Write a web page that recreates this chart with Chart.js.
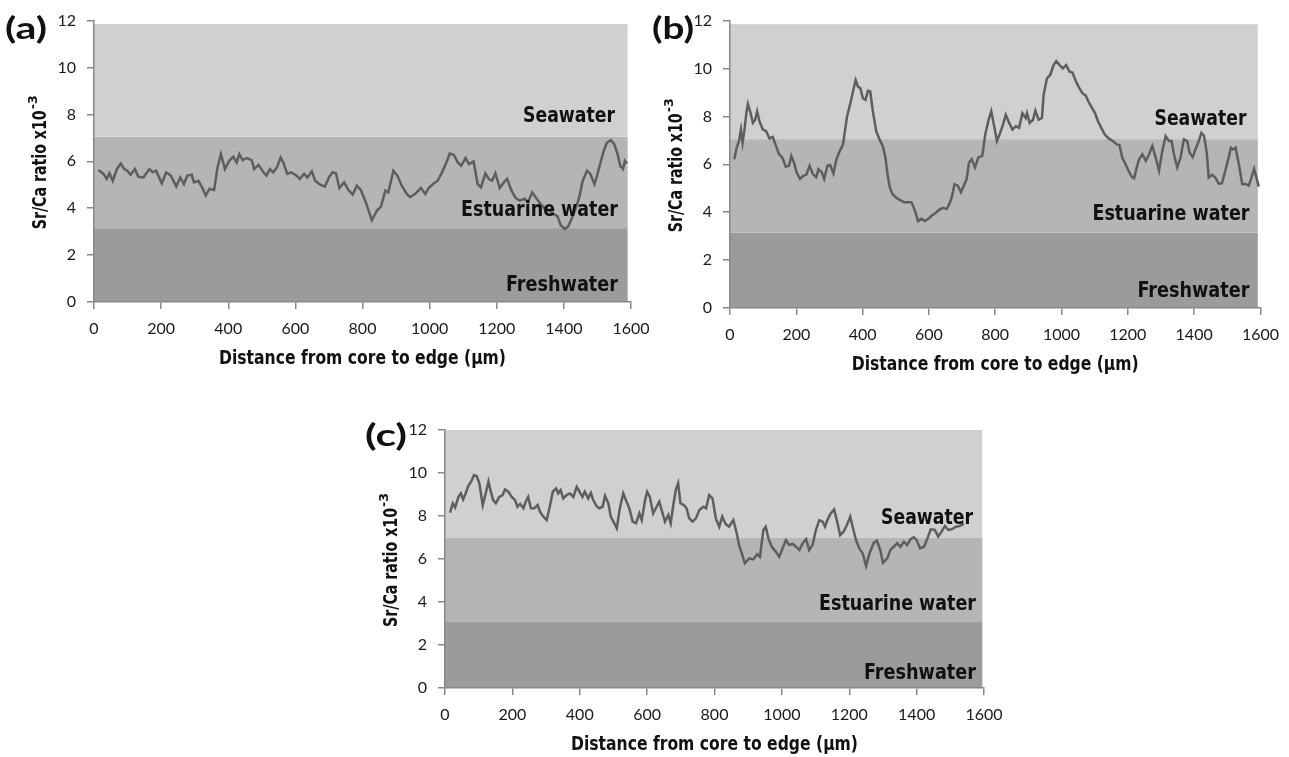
<!DOCTYPE html>
<html>
<head>
<meta charset="utf-8">
<script src="https://cdn.jsdelivr.net/npm/chart.js@4.4.1/dist/chart.umd.min.js"></script>
<style>
  body { margin: 0; background: #fff; }
  .painel { position: absolute; }
</style>
</head>
<body>
<div class="painel" style="left:0px;top:0px;width:660px;height:380px"><canvas id="chartA"></canvas></div>
<div class="painel" style="left:640px;top:0px;width:649px;height:390px"><canvas id="chartB"></canvas></div>
<div class="painel" style="left:340px;top:400px;width:680px;height:357px"><canvas id="chartC"></canvas></div>
<script>
// eixos
var ticksY = [0, 2, 4, 6, 8, 10, 12];
var ticksX = [0, 200, 400, 600, 800, 1000, 1200, 1400, 1600];
var zonas = ['Seawater', 'Estuarine water', 'Freshwater'];

// (a)
var distA = [13, 28, 38, 46, 56, 68, 80, 90, 99, 109, 122, 132, 147, 165, 175, 185, 202, 215, 229, 245,
  257, 268, 278, 291, 298, 311, 321, 333, 344, 358, 368, 378, 390, 403, 415, 425, 433, 443, 455, 470,
  477, 490, 505, 514, 524, 534, 545, 556, 564, 576, 588, 603, 613, 626, 636, 649, 659, 674, 688, 701,
  711, 721, 731, 745, 758, 771, 783, 795, 808, 828, 843, 855, 868, 877, 892, 904, 917, 932, 942, 957,
  974, 987, 997, 1010, 1024, 1037, 1050, 1060, 1072, 1084, 1094, 1107, 1117, 1131, 1143, 1153, 1166, 1176, 1186, 1196,
  1209, 1221, 1231, 1243, 1256, 1269, 1283, 1293, 1306, 1319, 1331, 1343, 1356, 1369, 1381, 1391, 1403, 1413, 1423, 1433,
  1446, 1456, 1469, 1479, 1491, 1499, 1509, 1519, 1528, 1540, 1550, 1560, 1568, 1576, 1582, 1588];
var srCaA = [5.63, 5.47, 5.25, 5.49, 5.17, 5.67, 5.91, 5.67, 5.6, 5.43, 5.67, 5.34, 5.31, 5.67, 5.53, 5.6, 5.06, 5.53, 5.39, 4.92,
  5.31, 5.03, 5.39, 5.43, 5.1, 5.17, 4.92, 4.54, 4.82, 4.78, 5.74, 6.31, 5.67, 6.02, 6.19, 5.95, 6.31, 6.05, 6.14, 6.05,
  5.67, 5.85, 5.53, 5.39, 5.67, 5.53, 5.74, 6.16, 5.95, 5.46, 5.53, 5.39, 5.25, 5.46, 5.31, 5.57, 5.17, 5.0, 4.92, 5.34,
  5.53, 5.49, 4.86, 5.1, 4.78, 4.58, 4.96, 4.78, 4.32, 3.48, 3.9, 4.07, 4.75, 4.68, 5.6, 5.39, 4.96, 4.61, 4.47, 4.61,
  4.86, 4.61, 4.86, 5.03, 5.17, 5.53, 5.95, 6.33, 6.28, 5.95, 5.81, 6.14, 5.88, 5.99, 5.03, 4.89, 5.49, 5.25, 5.17, 5.49,
  4.86, 5.1, 5.25, 4.78, 4.44, 4.32, 4.4, 4.26, 4.68, 4.4, 4.18, 3.97, 3.9, 3.76, 3.65, 3.26, 3.12, 3.22, 3.55, 3.9,
  4.47, 5.17, 5.6, 5.46, 5.03, 5.39, 5.95, 6.45, 6.79, 6.9, 6.73, 6.31, 5.81, 5.67, 6.02, 5.91];
var limitesA = [0, 3.15, 7.05, 11.85];

// (b)
var distB = [13, 20, 27, 33, 38, 43, 50, 54, 62, 69, 76, 82, 89, 99, 109, 119, 129, 139, 148, 158,
  168, 178, 185, 193, 201, 211, 221, 230, 240, 250, 260, 267, 277, 284, 294, 302, 312, 321, 331, 341,
  353, 363, 371, 379, 386, 393, 401, 409, 416, 423, 431, 441, 451, 461, 469, 475, 482, 490, 500, 512,
  525, 538, 547, 554, 561, 567, 577, 587, 599, 609, 619, 631, 641, 654, 661, 669, 677, 687, 697, 707,
  714, 721, 729, 739, 749, 761, 770, 780, 788, 798, 805, 815, 825, 832, 842, 852, 862, 872, 882, 892,
  896, 904, 914, 921, 931, 941, 946, 956, 966, 976, 984, 994, 1004, 1014, 1024, 1033, 1043, 1053, 1063, 1073,
  1081, 1091, 1101, 1110, 1120, 1130, 1142, 1155, 1167, 1175, 1183, 1193, 1203, 1212, 1219, 1226, 1234, 1244, 1254, 1264,
  1274, 1284, 1294, 1304, 1314, 1324, 1332, 1339, 1349, 1359, 1369, 1379, 1386, 1396, 1404, 1414, 1422, 1430, 1438, 1444,
  1454, 1464, 1474, 1484, 1494, 1504, 1511, 1518, 1525, 1535, 1545, 1555, 1565, 1573, 1581, 1589, 1595];
var srCaB = [6.21, 6.69, 6.97, 7.45, 6.9, 7.38, 8.21, 8.52, 8.14, 7.73, 7.86, 8.21, 7.79, 7.45, 7.38, 7.08, 7.14, 6.76, 6.42, 6.28,
  5.9, 5.94, 6.35, 6.07, 5.66, 5.39, 5.52, 5.56, 5.94, 5.59, 5.46, 5.8, 5.66, 5.39, 5.94, 5.97, 5.62, 6.21, 6.55, 6.83,
  8.0, 8.55, 9.04, 9.52, 9.24, 9.18, 8.76, 8.69, 9.07, 9.04, 8.21, 7.38, 7.04, 6.76, 6.28, 5.59, 5.04, 4.76, 4.62, 4.51,
  4.42, 4.42, 4.42, 4.21, 3.93, 3.63, 3.73, 3.63, 3.73, 3.86, 3.96, 4.1, 4.18, 4.14, 4.32, 4.62, 5.17, 5.11, 4.83, 5.17,
  5.39, 6.07, 6.21, 5.87, 6.28, 6.35, 7.25, 7.86, 8.21, 7.52, 6.97, 7.31, 7.73, 8.07, 7.73, 7.45, 7.59, 7.52, 8.14, 7.93,
  8.14, 7.73, 7.86, 8.24, 7.86, 7.93, 8.9, 9.59, 9.73, 10.14, 10.31, 10.14, 10.0, 10.14, 9.87, 9.83, 9.48, 9.2, 8.97, 8.87,
  8.62, 8.38, 8.14, 7.8, 7.52, 7.25, 7.08, 6.97, 6.83, 6.8, 6.28, 6.0, 5.7, 5.48, 5.42, 5.83, 6.21, 6.42, 6.14, 6.42,
  6.76, 6.28, 5.73, 6.55, 7.18, 6.97, 6.97, 6.42, 5.87, 6.28, 7.04, 6.97, 6.49, 6.3, 6.62, 6.97, 7.31, 7.18, 6.49, 5.45,
  5.56, 5.45, 5.18, 5.21, 5.73, 6.28, 6.69, 6.62, 6.69, 6.0, 5.18, 5.18, 5.11, 5.45, 5.8, 5.38, 5.07];
var limitesB = [0, 3.15, 7.05, 11.85];

// (c)
var distC = [15, 23, 30, 40, 47, 54, 62, 69, 79, 86, 94, 102, 112, 122, 129, 136, 143, 151, 161, 171,
  178, 188, 198, 208, 215, 223, 233, 240, 247, 255, 265, 275, 282, 292, 302, 312, 320, 330, 336, 343,
  351, 361, 371, 381, 391, 399, 408, 415, 425, 433, 440, 450, 458, 468, 475, 485, 492, 500, 510, 519,
  529, 537, 547, 557, 567, 577, 584, 594, 600, 608, 618, 626, 636, 646, 653, 663, 670, 677, 685, 692,
  699, 709, 717, 725, 735, 745, 755, 767, 775, 784, 794, 804, 814, 823, 833, 843, 856, 866, 874, 881,
  890, 903, 915, 927, 935, 945, 952, 960, 970, 982, 992, 1002, 1012, 1022, 1032, 1042, 1052, 1062, 1072, 1081,
  1091, 1101, 1111, 1121, 1128, 1135, 1145, 1155, 1163, 1173, 1183, 1193, 1203, 1210, 1220, 1230, 1240, 1250, 1260, 1273,
  1282, 1292, 1300, 1313, 1322, 1332, 1342, 1352, 1362, 1372, 1382, 1392, 1400, 1410, 1422, 1432, 1442, 1454, 1464, 1474,
  1484, 1494, 1504, 1517, 1527, 1540];
var srCaC = [8.16, 8.59, 8.4, 8.89, 9.05, 8.77, 9.08, 9.39, 9.64, 9.9, 9.86, 9.52, 8.5, 9.13, 9.6, 9.13, 8.74, 8.59, 8.89, 8.97,
  9.24, 9.13, 8.89, 8.74, 8.43, 8.56, 8.36, 8.67, 8.89, 8.36, 8.36, 8.51, 8.2, 7.97, 7.81, 8.51, 9.13, 9.28, 9.05, 9.21,
  8.82, 8.97, 9.05, 8.89, 9.36, 9.13, 8.89, 9.13, 8.82, 9.08, 8.74, 8.46, 8.36, 8.43, 8.93, 8.59, 7.97, 7.74, 7.43, 8.36,
  9.05, 8.74, 8.36, 7.74, 7.66, 8.12, 7.81, 8.74, 9.13, 8.89, 8.12, 8.36, 8.67, 8.12, 7.74, 8.05, 7.66, 8.43, 9.21, 9.52,
  8.59, 8.51, 8.36, 7.89, 7.74, 7.89, 8.28, 8.43, 8.36, 8.97, 8.82, 7.89, 7.5, 7.97, 7.63, 7.5, 7.81, 7.2, 6.57, 6.26,
  5.8, 6.03, 5.98, 6.23, 6.1, 7.35, 7.5, 6.96, 6.57, 6.34, 6.1, 6.49, 6.88, 6.65, 6.7, 6.57, 6.42, 6.73, 6.92, 6.42,
  6.65, 7.35, 7.81, 7.74, 7.5, 7.81, 8.12, 8.31, 7.81, 7.11, 7.27, 7.58, 7.97, 7.5, 6.88, 6.49, 6.26, 5.67, 6.26, 6.76,
  6.85, 6.42, 5.83, 6.03, 6.42, 6.57, 6.73, 6.57, 6.8, 6.65, 6.92, 7.01, 6.88, 6.49, 6.57, 6.96, 7.38, 7.35, 7.04, 7.27,
  7.53, 7.35, 7.38, 7.5, 7.53, 7.63];
var limitesC = [0, 3.1, 7.0, 12];

var coresZona = ['#9b9b9b', '#b5b5b5', '#d0d0d0'];
var estreita = "'Liberation Sans Narrow', 'Arial Narrow', 'DejaVu Sans Condensed', sans-serif";

function textoAjustado(ctx, txt, x, y, largura, alinhamento) {
    var m = ctx.measureText(txt).width;
    ctx.save();
    ctx.translate(x, y);
    ctx.scale(largura / m, 1);
    ctx.textAlign = alinhamento;
    ctx.fillText(txt, 0, 0);
    ctx.restore();
}

var pluginFundo = {
    id: 'fundo',
    beforeDraw: function (chart) {
        var op = chart.options.plugins.fundo;
        var ctx = chart.ctx, sx = chart.scales.x, sy = chart.scales.y;
        var esq = sx.getPixelForValue(0), dir = sx.getPixelForValue(op.fimX);
        ctx.save();
        for (let i = 0; i < 3; i++) {
            var topo = sy.getPixelForValue(op.limites[i + 1]);
            var base = sy.getPixelForValue(op.limites[i]);
            ctx.fillStyle = coresZona[i];
            ctx.fillRect(esq, topo, dir - esq, base - topo);
        }
        ctx.restore();
    },
    afterDraw: function (chart) {
        var op = chart.options.plugins.fundo;
        var ctx = chart.ctx, a = chart.chartArea, sy = chart.scales.y;
        ctx.save();
        ctx.fillStyle = '#111';
        ctx.textBaseline = 'middle';

        // rotulos das zonas
        ctx.font = 'bold 22px ' + estreita;
        var posY = [7.9, 3.9, 0.7];
        var largZona = [92, 157, 112];
        var direita = a.right - op.recuo;
        for (let i = 0; i < zonas.length; i++) {
            textoAjustado(ctx, zonas[i], direita - (i == 0 ? 3 : 0), sy.getPixelForValue(posY[i]), largZona[i], 'right');
        }

        // titulo eixo x
        ctx.font = 'bold 20px ' + estreita;
        textoAjustado(ctx, 'Distance from core to edge (\u00b5m)', (a.left + a.right) / 2, a.bottom + 57, 287, 'center');

        // titulo eixo y com expoente
        ctx.save();
        ctx.translate(a.left - 53, (a.top + a.bottom) / 2);
        ctx.rotate(-Math.PI / 2);
        ctx.font = 'bold 19px ' + estreita;
        textoAjustado(ctx, 'Sr/Ca ratio x10', -68, 0, 119, 'left');
        ctx.font = 'bold 12px ' + estreita;
        textoAjustado(ctx, '-3', 52, -7, 14, 'left');
        ctx.restore();

        // letra do painel
        ctx.font = 'bold 30px Lato, sans-serif';
        textoAjustado(ctx, op.letra, a.left + op.letraX, a.top + op.letraY, 42, 'left');
        ctx.restore();
    }
};

function criarGrafico(id, dist, valores, limites, cfg) {
    var pontos = dist.map(function (d, i) { return { x: d, y: valores[i] }; });
    return new Chart(document.getElementById(id), {
        type: 'line',
        data: {
            datasets: [{
                data: pontos,
                borderColor: '#5e5e5e',
                borderWidth: 2.5,
                pointRadius: 0,
                tension: 0,
                fill: false
            }]
        },
        options: {
            responsive: true,
            maintainAspectRatio: false,
            animation: false,
            layout: { padding: { top: cfg.topo, right: cfg.direita, left: 0, bottom: 0 } },
            plugins: {
                legend: { display: false },
                tooltip: { enabled: false },
                fundo: { limites: limites, fimX: cfg.fimX, recuo: cfg.recuo, letra: cfg.letra, letraX: cfg.letraX, letraY: cfg.letraY }
            },
            scales: {
                x: {
                    type: 'linear',
                    min: 0,
                    max: 1600,
                    afterFit: function (s) { s.height = cfg.alturaX; },
                    afterBuildTicks: function (s) { s.ticks = ticksX.map(function (v) { return { value: v }; }); },
                    ticks: {
                        padding: 10, color: '#1a1a1a', font: { family: 'Lato', size: 16 }, autoSkip: false, maxRotation: 0,
                        callback: function (v) { return String(v); }
                    },
                    grid: { drawOnChartArea: false, drawTicks: true, tickLength: 7, color: '#888', lineWidth: 1.5 },
                    border: { display: true, color: '#888', width: 1.5 }
                },
                y: {
                    min: 0,
                    max: 12,
                    afterFit: function (s) { s.width = cfg.larguraY; },
                    afterBuildTicks: function (s) { s.ticks = ticksY.map(function (v) { return { value: v }; }); },
                    ticks: {
                        padding: 11, color: '#1a1a1a', font: { family: 'Lato', size: 16 },
                        callback: function (v) { return String(v); }
                    },
                    grid: { drawOnChartArea: false, drawTicks: true, tickLength: 7, color: '#888', lineWidth: 1.5 },
                    border: { display: true, color: '#888', width: 1.5 }
                }
            }
        },
        plugins: [pluginFundo]
    });
}

criarGrafico('chartA', distA, srCaA, limitesA, { topo: 20, direita: 29, alturaX: 78, larguraY: 94, fimX: 1590, recuo: 13, letra: '(a)', letraX: -89, letraY: 9 });
criarGrafico('chartB', distB, srCaB, limitesB, { topo: 18, direita: 20, alturaX: 82, larguraY: 90, fimX: 1592, recuo: 11, letra: '(b)', letraX: -78, letraY: 9 });
criarGrafico('chartC', distC, srCaC, limitesC, { topo: 30, direita: 36, alturaX: 69, larguraY: 105, fimX: 1595, recuo: 8, letra: '(c)', letraX: -80, letraY: 6 });
</script>
</body>
</html>
